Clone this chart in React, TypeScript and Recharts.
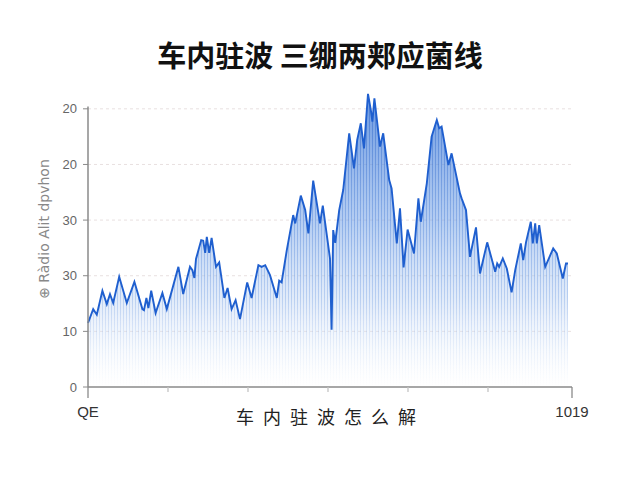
import React from 'react'
import { AreaChart, Area, XAxis, YAxis, CartesianGrid, ReferenceLine } from 'recharts'

// position along the axis (0..120) and level
const positions = [
  0, 1.3, 2.2, 3.6, 4.7, 5.5, 6.3, 7.8, 9.7, 11.6, 13.6, 14, 14.6, 15.1, 15.8, 16.9, 18.6, 19.7,
  22.6, 23.8, 25.5, 26.1, 26.6, 27, 28.3, 28.8, 29.3, 29.7, 30.3, 30.9, 32, 32.8, 34.1, 34.9,
  35.9, 36.9, 38, 39.8, 40.9, 42.6, 43.4, 44.3, 45.5, 47.2, 47.8, 48.4, 49.7, 51.3, 51.8, 53.2,
  54.3, 55.1, 56.3, 58, 58.7, 60.5, 60.9, 61.3, 61.8, 62.8, 63.8, 65.3, 66.5, 67.3, 68.2, 69,
  70, 70.7, 71.1, 71.6, 73, 73.8, 75.3, 75.9, 77.2, 78, 78.9, 79.9, 81.5, 82.6, 83.2, 84.7,
  85.9, 87.2, 87.8, 88.4, 90.1, 90.9, 93, 93.4, 94.5, 95.5, 97, 98, 99.8, 101.8, 102.3, 102.8,
  103.7, 104.7, 105.9, 106.8, 108.2, 108.8, 109.5, 110.7, 111.2, 111.8, 112.2, 112.8, 114.3,
  116.3, 117.2, 118.7, 119.5, 120
]
const levels = [
  11.5, 14.0, 13.0, 17.3, 14.9, 16.7, 15.1, 19.8, 15.1, 18.9, 14.0, 13.8, 16.0, 14.2, 17.3, 13.3, 16.9, 14.0,
  21.6, 16.7, 21.6, 21.0, 19.6, 23.0, 26.4, 26.3, 24.1, 27.0, 24.1, 26.8, 21.6, 22.4, 16.0, 17.8,
  14.0, 15.6, 12.2, 18.8, 16.0, 21.9, 21.6, 21.9, 20.1, 16.0, 19.1, 18.8, 24.6, 30.9, 29.4, 34.4,
  31.8, 27.6, 37.1, 29.4, 32.6, 23.1, 10.3, 28.2, 25.9, 31.8, 35.4, 45.6, 39.3, 44.4, 47.4, 42.9,
  52.7, 49.8, 47.7, 51.9, 43.2, 45.6, 37.2, 35.7, 25.8, 32.1, 21.5, 28.3, 24.0, 33.9, 29.7, 36.6,
  45.0, 48.0, 46.5, 46.8, 39.9, 42.0, 34.8, 33.9, 31.8, 23.4, 28.7, 20.4, 26.0, 20.7, 22.2, 21.6,
  23.1, 21.3, 17.0, 21.0, 25.8, 22.8, 26.0, 29.7, 25.8, 29.4, 25.8, 29.1, 21.6,
  24.9, 24.0, 19.5, 22.2, 22.2
]

const yTicks = [0, 10, 20, 30, 40, 50]
const yTickLabels = ['0', '10', '30', '30', '20', '20']
const gridLevels = [10, 20, 30, 40, 50]
const xTicks = [0, 20, 40, 60, 80, 100, 121]
const xTickLabels = ['QE', '', '', '', '', '', '1019']

const title = '车内驻波 三绷两郏应菌线'
const xTitle = '车内驻波怎么解'
const yTitle = '⊕ Ràdio Alit dpvhon'

const data = positions.map((p, i) => ({ p, v: levels[i] }))

const XTick = (props: any) => {
  const { x, y, payload, index } = props
  const isEnd = index === 0 || index === xTicks.length - 1
  return (
    <g>
      <line x1={x} y1={y} x2={x} y2={y + (isEnd ? 11 : 5)} stroke={isEnd ? '#8a8a8a' : '#c4c4c4'} strokeWidth={1.3} />
      <text x={x} y={y + 30} textAnchor="middle" fontSize={15} fill="#333" fontFamily="Liberation Sans">
        {xTickLabels[xTicks.indexOf(payload.value)]}
      </text>
    </g>
  )
}

export default function App() {
  return (
    <div style={{ position: 'absolute', left: 0, top: 0, width: 640, height: 480, background: '#fff' }}>
      <div
        style={{
          position: 'absolute', top: 33, left: 0, width: 640, textAlign: 'center',
          fontFamily: '"Noto Sans CJK SC"', fontWeight: 700, fontSize: 29, color: '#111'
        }}
      >
        {title}
      </div>
      <div
        style={{
          position: 'absolute', left: 44, top: 230, width: 200, marginLeft: -100, marginTop: -9,
          textAlign: 'center', transform: 'rotate(-90deg)', fontFamily: '"DejaVu Sans"',
          fontSize: 14, color: '#888', whiteSpace: 'nowrap'
        }}
      >
        {yTitle}
      </div>
      <div
        style={{
          position: 'absolute', left: 236, top: 403, fontFamily: '"Noto Sans CJK SC"',
          fontSize: 18, letterSpacing: 9, color: '#222', whiteSpace: 'nowrap'
        }}
      >
        {xTitle}
      </div>
      <AreaChart width={640} height={480} data={data} margin={{ top: 81, right: 68, left: 0, bottom: 63 }}>
        <defs>
          <linearGradient id="fillGrad" x1="0" y1="90" x2="0" y2="387" gradientUnits="userSpaceOnUse">
            <stop offset="0" stopColor="#3f7ad8" stopOpacity={0.8} />
            <stop offset="0.45" stopColor="#7aa6e8" stopOpacity={0.55} />
            <stop offset="0.75" stopColor="#c3d7f4" stopOpacity={0.38} />
            <stop offset="1" stopColor="#ffffff" stopOpacity={0.1} />
          </linearGradient>
          <linearGradient id="stripeGrad" x1="0" y1="90" x2="0" y2="387" gradientUnits="userSpaceOnUse">
            <stop offset="0" stopColor="#2a62c6" stopOpacity={0.5} />
            <stop offset="0.7" stopColor="#4f86dc" stopOpacity={0.28} />
            <stop offset="1" stopColor="#9dbdec" stopOpacity={0} />
          </linearGradient>
          <pattern id="stripes" x="0" y="0" width="3" height="480" patternUnits="userSpaceOnUse">
            <rect x="0" y="0" width="1" height="480" fill="url(#stripeGrad)" />
          </pattern>
        </defs>
        <CartesianGrid vertical={false} horizontalValues={gridLevels} stroke="#e8e0e0" strokeDasharray="3 3" />
        <XAxis
          dataKey="p"
          type="number"
          domain={[0, 121]}
          ticks={xTicks}
          height={30}
          axisLine={{ stroke: '#8a8a8a', strokeWidth: 1.5 }}
          tickLine={false}
          tickSize={0}
          tickMargin={0}
          tick={<XTick />}
          interval={0}
        />
        <YAxis
          type="number"
          domain={[0, 55]}
          ticks={yTicks}
          width={88}
          axisLine={false}
          tickLine={{ stroke: '#8a8a8a' }}
          tickSize={5}
          tickMargin={6}
          tick={{ fontSize: 13, fill: '#666', fontFamily: 'Liberation Sans' }}
          tickFormatter={(v: number) => yTickLabels[yTicks.indexOf(v)]}
          interval={0}
        />
        <ReferenceLine segment={[{ x: 0, y: 0 }, { x: 0, y: 50.4 }]} stroke="#8a8a8a" strokeWidth={1.5} />
        <Area
          type="linear"
          dataKey="v"
          stroke="none"
          fill="url(#fillGrad)"
          fillOpacity={1}
          isAnimationActive={false}
          dot={false}
          activeDot={false}
        />
        <Area
          type="linear"
          dataKey="v"
          stroke="#1f5fcf"
          strokeWidth={1.9}
          fill="url(#stripes)"
          fillOpacity={1}
          isAnimationActive={false}
          dot={false}
          activeDot={false}
        />
      </AreaChart>
    </div>
  )
}
